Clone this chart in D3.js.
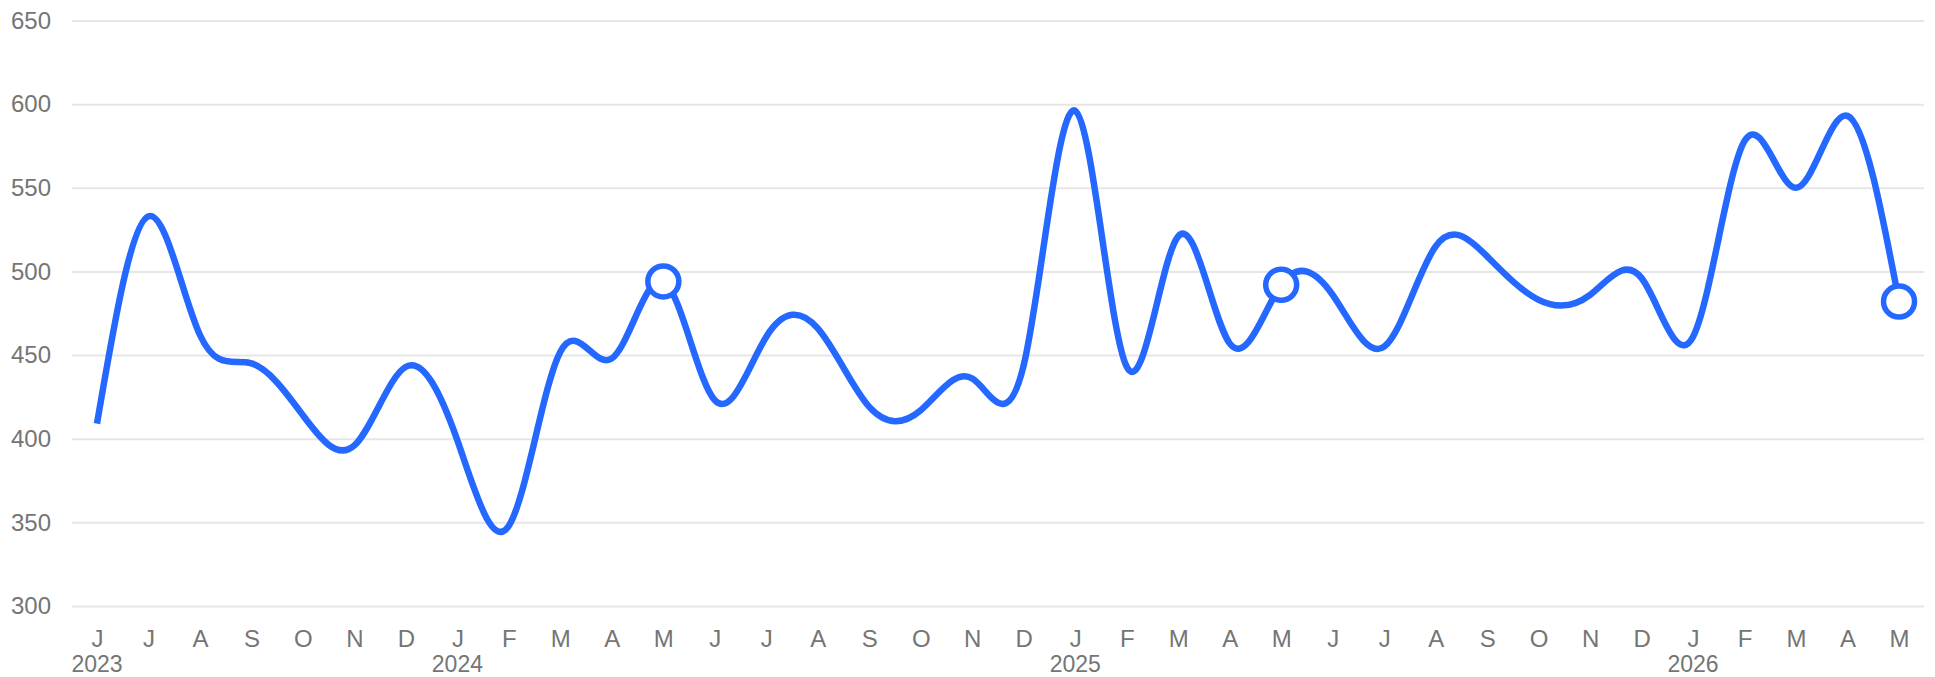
<!DOCTYPE html>
<html>
<head>
<meta charset="utf-8">
<script src="https://cdn.jsdelivr.net/npm/d3@7"></script>
<style>
  html, body { margin: 0; padding: 0; background: #fff; }
  svg text { font-family: "Liberation Sans", Arial, Helvetica, sans-serif; }
</style>
</head>
<body>
<svg id="chart"></svg>
<script>
// monthly values, Jun 2023 .. May 2026
let months = ["2023-06","2023-07","2023-08","2023-09","2023-10","2023-11","2023-12",
              "2024-01","2024-02","2024-03","2024-04","2024-05","2024-06","2024-07","2024-08","2024-09","2024-10","2024-11","2024-12",
              "2025-01","2025-02","2025-03","2025-04","2025-05","2025-06","2025-07","2025-08","2025-09","2025-10","2025-11","2025-12",
              "2026-01","2026-02","2026-03","2026-04","2026-05"]
let monthLetters = ["J","J","A","S","O","N","D",
                    "J","F","M","A","M","J","J","A","S","O","N","D",
                    "J","F","M","A","M","J","J","A","S","O","N","D",
                    "J","F","M","A","M"]
let values = [409, 533, 462, 445, 414, 396, 443,
              399, 348, 452, 448, 494, 423, 461, 466, 419, 417, 436, 444,
              596, 443, 521, 457, 492, 486, 455, 515, 509, 483, 486, 496,
              461, 578, 550, 593, 482]
let yearTicks = ["2023-06","2024-01","2025-01","2026-01"]
let yearLabels = ["2023","2024","2025","2026"]
let markedMonths = ["2024-05","2025-05","2026-05"]
let yTicks = [300, 350, 400, 450, 500, 550, 600, 650]

let width = 1935
let height = 677
let plotLeft = 72
let plotRight = 1924
let plotTop = 20.5
let plotBottom = 606
let blue = '#2468ff'

let data = months.map((m, i) => ({month: m, value: values[i]}))

let svg = d3.select('#chart')
            .attr('width', width)
            .attr('height', height)

let xScale = d3.scalePoint()
               .domain(months)
               .range([plotLeft, plotRight])
               .padding(0.485)

let yScale = d3.scaleLinear()
               .domain([300, 650])
               .range([plotBottom, plotTop])

// y axis with grid
let yAxis = d3.axisLeft(yScale)
              .tickValues(yTicks)
              .tickSize(-(plotRight - plotLeft))
              .tickPadding(21)

let yG = svg.append('g')
            .attr('transform', 'translate(' + plotLeft + ',0)')
            .call(yAxis)
yG.select('.domain').remove()
yG.selectAll('.tick line')
  .attr('stroke', '#e6e6e6')
  .attr('stroke-width', 2)
yG.selectAll('.tick text')
  .attr('fill', '#757575')
  .style('font-size', '24px')

// x axis, month initials
let xAxis = d3.axisBottom(xScale)
              .tickSize(0)
              .tickPadding(24)
              .tickFormat((d, i) => monthLetters[i])

let xG = svg.append('g')
            .attr('transform', 'translate(0,' + plotBottom + ')')
            .call(xAxis)
xG.select('.domain').remove()
xG.selectAll('.tick text')
  .attr('fill', '#757575')
  .style('font-size', '24px')

// year labels under the months
svg.append('g')
   .selectAll('text')
   .data(yearTicks)
   .enter()
   .append('text')
   .attr('x', (d) => xScale(d))
   .attr('y', 672)
   .attr('text-anchor', 'middle')
   .attr('fill', '#757575')
   .style('font-size', '23px')
   .text((d, i) => yearLabels[i])

// the line
let line = d3.line()
             .x((d) => xScale(d.month))
             .y((d) => yScale(d.value))
             .curve(d3.curveNatural)

svg.append('path')
   .datum(data)
   .attr('d', line)
   .attr('fill', 'none')
   .attr('stroke', blue)
   .attr('stroke-width', 6.5)

svg.selectAll('circle')
   .data(data.filter((d) => markedMonths.includes(d.month)))
   .enter()
   .append('circle')
   .attr('cx', (d) => xScale(d.month))
   .attr('cy', (d) => yScale(d.value))
   .attr('r', 15.5)
   .attr('fill', '#fff')
   .attr('stroke', blue)
   .attr('stroke-width', 5.5)
</script>
</body>
</html>
